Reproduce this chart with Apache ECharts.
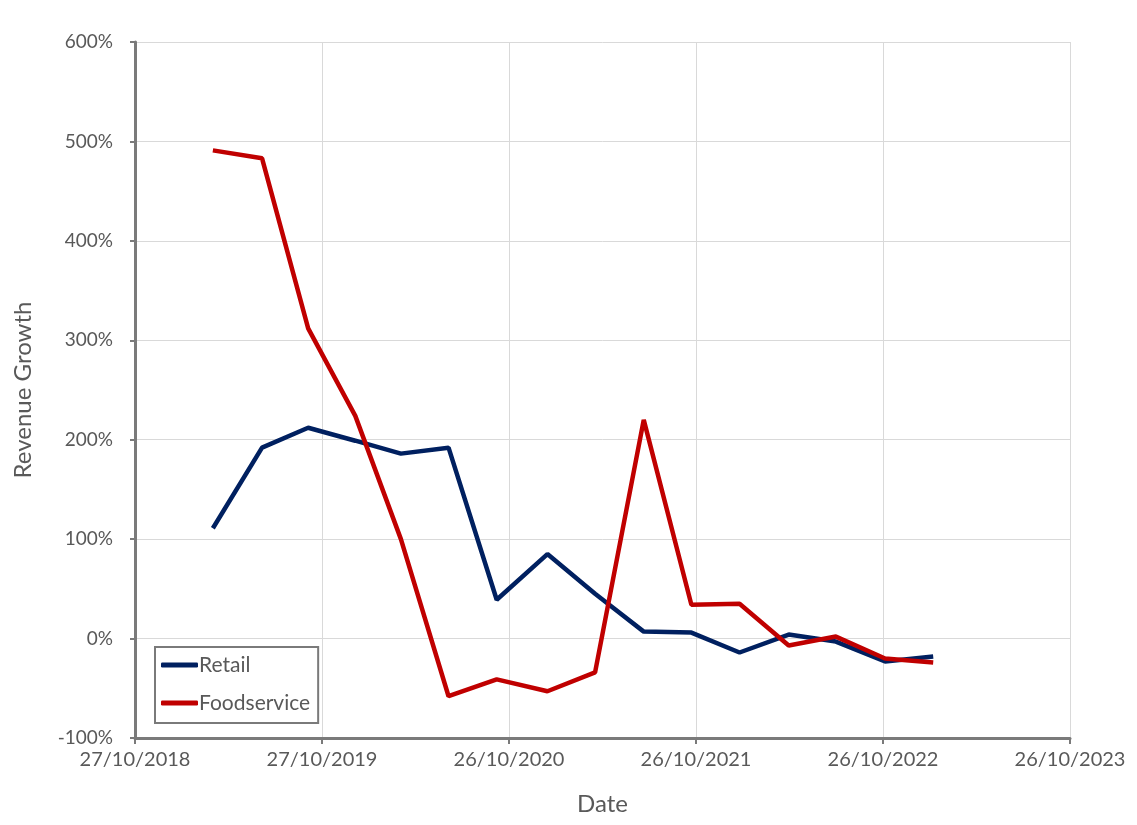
<!DOCTYPE html>
<html>
<head>
<meta charset="utf-8">
<script src="https://cdn.jsdelivr.net/npm/echarts@6/dist/echarts.min.js"></script>
<style>html,body{margin:0;padding:0;background:#fff;}#chart{width:1137px;height:825px;}</style>
</head>
<body>
<div id="chart"></div>
<script>
var dates = ['2019-03-28','2019-07-02','2019-09-30','2019-12-31','2020-03-29','2020-06-30','2020-10-02','2021-01-09','2021-04-12','2021-07-16','2021-10-17','2022-01-19','2022-04-25','2022-07-26','2022-10-30','2023-02-01'];
var retail = [111, 192, 212, 199, 186, 192, 39, 85, 45, 7, 6, -14, 4, -3, -23, -18];
var foodservice = [491, 483, 312, 224, 100, -58, -41, -53, -34, 220, 34, 35, -7, 2, -20, -24];
var yTicks = [-100, 0, 100, 200, 300, 400, 500, 600];
var axisStart = '2018-10-27';
var axisTickDays = 365;
var axisTickCount = 5;

function toUTC(s){var p=s.split('-');return Date.UTC(+p[0],+p[1]-1,+p[2]);}
var DAY = 86400000;
var t0 = toUTC(axisStart);
function dayOffset(s){return Math.round((toUTC(s)-t0)/DAY);}
function fmtDate(v){
  var d = new Date(t0 + v*DAY);
  var dd = ('0'+d.getUTCDate()).slice(-2), mm = ('0'+(d.getUTCMonth()+1)).slice(-2);
  return dd + '/' + mm + '/' + d.getUTCFullYear();
}
function pairs(vals){return dates.map(function(d,i){return [dayOffset(d), vals[i]];});}

var font = 'Lato, "Open Sans", sans-serif';
var gray = '#595959';
var chart = echarts.init(document.getElementById('chart'));
chart.setOption({
  animation: false,
  backgroundColor: '#ffffff',
  grid: {left: 135, right: 67, top: 42, bottom: 87, containLabel: false},
  xAxis: {
    type: 'value',
    min: 0, max: axisTickDays*axisTickCount, interval: axisTickDays,
    name: 'Date', nameLocation: 'middle', nameGap: 54,
    nameTextStyle: {color: gray, fontSize: 24, fontFamily: font},
    axisLine: {show: true, onZero: false, lineStyle: {color: '#7a7a7a', width: 3}},
    axisTick: {show: true, length: 6, lineStyle: {color: '#7a7a7a', width: 2}},
    axisLabel: {color: gray, fontSize: 20, fontFamily: font, margin: 12, formatter: fmtDate, showMinLabel: true, showMaxLabel: true},
    splitLine: {show: true, lineStyle: {color: '#d9d9d9', width: 1}}
  },
  yAxis: {
    type: 'value',
    min: yTicks[0], max: yTicks[yTicks.length-1], interval: 100,
    name: 'Revenue Growth', nameLocation: 'middle', nameGap: 100,
    nameTextStyle: {color: gray, fontSize: 24, fontFamily: font},
    axisLine: {show: true, onZero: false, lineStyle: {color: '#7a7a7a', width: 3}},
    axisTick: {show: true, length: 5, lineStyle: {color: '#7a7a7a', width: 2}},
    axisLabel: {color: gray, fontSize: 19, fontFamily: font, margin: 22, formatter: function(v){return v + '%';}},
    splitLine: {show: true, lineStyle: {color: '#d9d9d9', width: 1}}
  },
  legend: {
    orient: 'vertical', left: 155, top: 647,
    padding: [6, 8, 8, 6],
    itemGap: 14,
    itemWidth: 37, itemHeight: 5,
    borderColor: '#7a7a7a', borderWidth: 2, borderRadius: 0,
    backgroundColor: '#ffffff',
    textStyle: {color: gray, fontSize: 21, lineHeight: 24, fontFamily: font, padding: [0,0,0,-4]},
    data: [{name: 'Retail', icon: 'roundRect'}, {name: 'Foodservice', icon: 'roundRect'}]
  },
  series: [
    {name: 'Retail', type: 'line', data: pairs(retail), showSymbol: false, symbol: 'none',
     lineStyle: {color: '#002060', width: 4.5}, itemStyle: {color: '#002060'}, z: 3},
    {name: 'Foodservice', type: 'line', data: pairs(foodservice), showSymbol: false, symbol: 'none',
     lineStyle: {color: '#c00000', width: 4.5}, itemStyle: {color: '#c00000'}, z: 4}
  ]
});
</script>
</body>
</html>
